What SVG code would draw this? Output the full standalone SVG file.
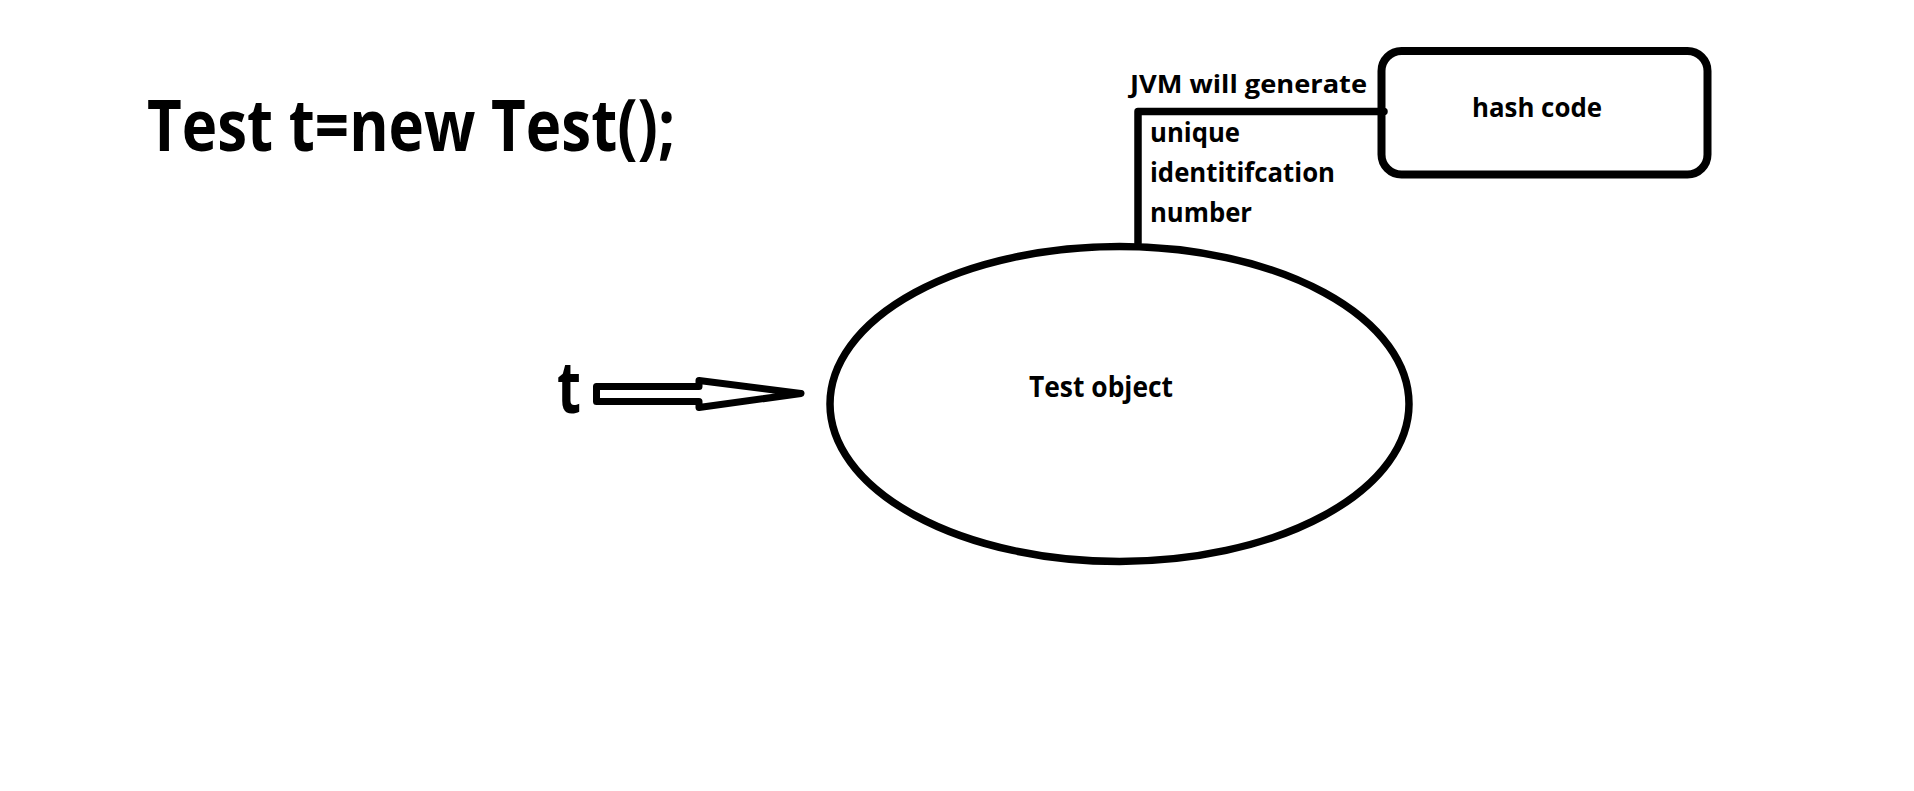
<svg xmlns="http://www.w3.org/2000/svg" width="1914" height="791" viewBox="0 0 1914 791">
  <style>
    .txt { font-family: "Open Sans", "Noto Sans", "Liberation Sans", sans-serif; font-weight: 700; fill: #000; }
    .shape { fill: #fff; stroke: #000; }
    .conn { fill: none; stroke: #000; stroke-width: 7.5; stroke-linecap: round; stroke-linejoin: round; }
  </style>
  <rect x="0" y="0" width="1914" height="791" fill="#fff"/>

  <g id="title">
    <text class="txt" x="147" y="151" font-size="71" textLength="528" lengthAdjust="spacingAndGlyphs">Test t=new Test();</text>
  </g>

  <g id="node-t">
    <text class="txt" x="557" y="413" font-size="72" font-weight="600" textLength="24" lengthAdjust="spacingAndGlyphs">t</text>
  </g>

  <g id="node-test-object">
    <ellipse class="shape" cx="1119.5" cy="404" rx="289.5" ry="157.5" stroke-width="7.5"/>
    <text class="txt" x="1029" y="397" font-size="28" textLength="144" lengthAdjust="spacingAndGlyphs">Test object</text>
  </g>

  <g id="node-hash-code">
    <rect class="shape" x="1381.5" y="51" width="326" height="123.5" rx="20" ry="20" stroke-width="8"/>
    <text class="txt" x="1472" y="117" font-size="27" textLength="130" lengthAdjust="spacingAndGlyphs">hash code</text>
  </g>

  <g id="connectors">
    <polygon class="shape" points="596.5,386.5 699,386.5 699,380.5 801,393.5 699,407.5 699,401.5 596.5,401.5" stroke-width="7" stroke-linejoin="round"/>
    <path class="conn" d="M1138,243 L1138,111.5 L1384,111.5"/>
    <g id="connector-labels">
      <text class="txt" x="1130" y="93" font-size="25" textLength="237" lengthAdjust="spacingAndGlyphs">JVM will generate</text>
      <text class="txt" x="1150" y="142" font-size="26" textLength="90" lengthAdjust="spacingAndGlyphs">unique</text>
      <text class="txt" x="1150" y="182" font-size="26" textLength="185" lengthAdjust="spacingAndGlyphs">identitifcation</text>
      <text class="txt" x="1150" y="222" font-size="26" textLength="102" lengthAdjust="spacingAndGlyphs">number</text>
    </g>
  </g>
</svg>
